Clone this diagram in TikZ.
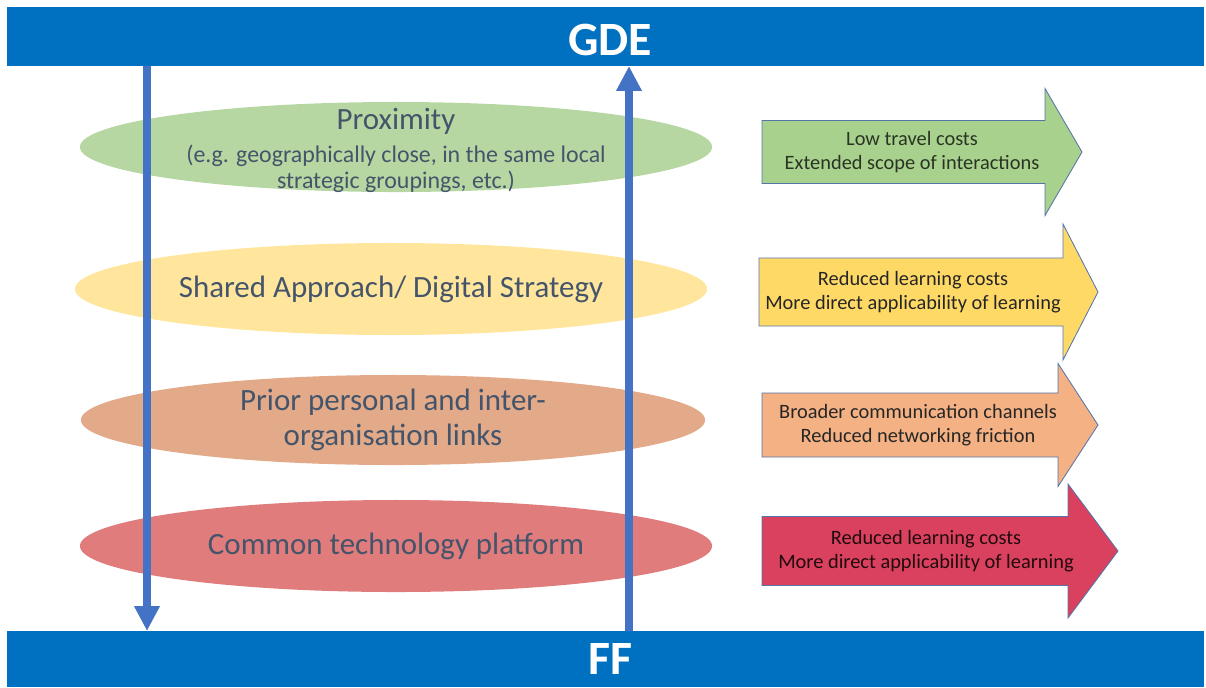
\documentclass[tikz,border=0pt]{standalone}
\usepackage{fontspec}
\setmainfont{Carlito}
\usetikzlibrary{arrows.meta,shapes.geometric}
\definecolor{barblue}{HTML}{0070C0}
\definecolor{flowblue}{HTML}{4472C4}
\definecolor{edgeblue}{HTML}{5575A8}
\definecolor{slate}{HTML}{44546A}
\definecolor{elgreen}{HTML}{B7D7A2}
\definecolor{elyellow}{HTML}{FFE69C}
\definecolor{elorange}{HTML}{E2AA88}
\definecolor{elred}{HTML}{E07C7C}
\definecolor{argreen}{HTML}{A9D18E}
\definecolor{aryellow}{HTML}{FFD966}
\definecolor{arorange}{HTML}{F4B183}
\definecolor{arred}{HTML}{D9415E}
\begin{document}
\begin{tikzpicture}[x=0.025cm,y=-0.025cm,
    bar/.style={fill=barblue, draw=none},
    bartext/.style={text=white, inner sep=0pt, font=\fontsize{34}{36}\selectfont\bfseries},
    blob/.style={ellipse, draw=none, minimum width=15.8cm, minimum height=2.25cm,
        inner sep=0pt, align=center, text=slate, font=\fontsize{22}{24.8}\selectfont},
    flow/.style={draw=flowblue, line width=0.19cm,
        -{Triangle[width=0.6cm,length=0.62cm]}},
    rarrow/.style={draw=edgeblue, line width=0.6pt, line join=miter},
    arrtext/.style={align=center, font=\fontsize{14.5}{17}\selectfont}]
    \useasboundingbox (0,0) rectangle (1206,687);

    % top and bottom bars
    \fill[bar] (7,7) rectangle (1204,66);
    \fill[bar] (7,631) rectangle (1204,687);
    \node[bartext] (gde) at (610,40) {GDE};
    \node[bartext] (ff) at (610,659) {FF};

    % the four factors
    \node[blob, fill=elgreen] (prox) at (396,147) {};
    \node[text=slate, font=\fontsize{22}{24}\selectfont] (proxtitle) at (396,121) {Proximity};
    \node[text=slate, align=center, font=\fontsize{17}{18.4}\selectfont] (proxnote) at (396,169)
        {(e.g. geographically close, in the same local\\strategic groupings, etc.)};
    \node[blob, fill=elyellow, minimum height=2.3cm] (shared) at (391,289) {Shared Approach/ Digital Strategy};
    \node[blob, fill=elorange, minimum width=15.6cm] (prior) at (393,420) {Prior personal and inter-\\organisation links};
    \node[blob, fill=elred, minimum height=2.3cm] (common) at (396,546) {Common technology platform};

    % vertical flows between the bars
    \coordinate (downtop) at (147,66);
    \coordinate (downbot) at (147,631);
    \coordinate (uptop) at (629,66);
    \coordinate (upbot) at (629,631);
    \draw[flow] (downtop) -- (downbot);
    \draw[flow] (upbot) -- (uptop);

    % effects: xa/xb/xt/yc/body/head/colour
    \foreach \xa/\xb/\xt/\yc/\bh/\hh/\col in {762/1045/1082/152/31.5/63.5/argreen,
        759/1063/1098/292/34/68/aryellow,
        762/1058/1098/425/32/61.5/arorange,
        762/1068/1118/551/34.5/67/arred} {
        \draw[rarrow, fill=\col] (\xa,{\yc-\bh}) -- (\xb,{\yc-\bh}) -- (\xb,{\yc-\hh})
            -- (\xt,\yc) -- (\xb,{\yc+\hh}) -- (\xb,{\yc+\bh}) -- (\xa,{\yc+\bh}) -- cycle;
    }
    \node[arrtext, text=black!75!argreen] (travel) at (912,152) {Low travel costs\\Extended scope of interactions};
    \node[arrtext, text=black!85] (learnA) at (913,292) {Reduced learning costs\\More direct applicability of learning};
    \node[arrtext, text=black!85] (comms) at (918,425) {Broader communication channels\\Reduced networking friction};
    \node[arrtext, text=black!85!arred] (learnB) at (926,551) {Reduced learning costs\\More direct applicability of learning};
\end{tikzpicture}
\end{document}
